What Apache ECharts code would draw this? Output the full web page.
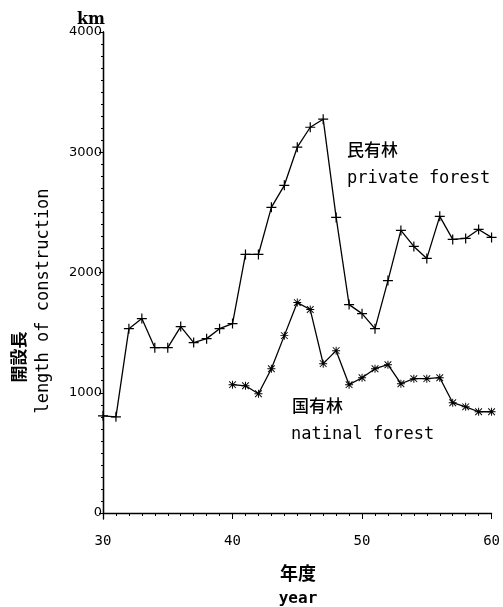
<!DOCTYPE html>
<html>
<head>
<meta charset="utf-8">
<script src="https://cdn.jsdelivr.net/npm/echarts@6/dist/echarts.min.js"></script>
<style>
html,body{margin:0;padding:0;background:#fff;}
#chart{width:503px;height:607px;}
</style>
</head>
<body>
<div id="chart"></div>
<script>
const privateYears = [30,31,32,33,34,35,36,37,38,39,40,41,42,43,44,45,46,47,48,49,50,51,52,53,54,55,56,57,58,59,60];
const privateKm = [808,800,1533,1617,1375,1375,1550,1417,1450,1533,1575,2150,2150,2542,2725,3042,3208,3275,2458,1733,1658,1533,1933,2350,2217,2117,2467,2275,2283,2358,2292];
const nationalYears = [40,41,42,43,44,45,46,47,48,49,50,51,52,53,54,55,56,57,58,59,60];
const nationalKm = [1067,1058,992,1200,1475,1750,1692,1242,1350,1067,1125,1200,1233,1075,1117,1117,1125,917,883,842,842];
const xTicks = [30,40,50,60];
const yTicks = [0,1000,2000,3000,4000];

const PLUS = 'path://M0,4.4H10V5.6H0Z M4.4,0H5.6V10H4.4Z';
const STAR = 'path://M0,4.4H10V5.6H0Z M4.4,0H5.6V10H4.4Z M1.2,0.4L9.6,8.8L8.8,9.6L0.4,1.2Z M8.8,0.4L9.6,1.2L1.2,9.6L0.4,8.8Z';

const chart = echarts.init(document.getElementById('chart'), null, {renderer:'canvas'});
const mono = 'DejaVu Sans Mono';

chart.setOption({
  animation:false,
  backgroundColor:'#fff',
  grid:[
    {left:103, right:9, top:32, bottom:94},
    {left:103, right:9, top:32, bottom:88}
  ],
  xAxis:[
    {type:'value', gridIndex:0, position:'bottom', offset:6, min:xTicks[0], max:xTicks[xTicks.length-1], interval:10,
     axisLine:{show:true, lineStyle:{color:'#000', width:1.3}},
     axisTick:{show:true, length:6, lineStyle:{color:'#000', width:1}},
     minorTick:{show:true, splitNumber:10, length:3, lineStyle:{color:'#000', width:1}},
     splitLine:{show:false}, minorSplitLine:{show:false},
     axisLabel:{color:'#000', fontFamily:mono, fontSize:14, margin:15, formatter:v=>String(v)}},
    {type:'value', gridIndex:1, show:false, min:0, max:1}
  ],
  yAxis:[
    {type:'value', gridIndex:0, min:yTicks[0], max:yTicks[yTicks.length-1], interval:1000,
     axisLine:{show:true, lineStyle:{color:'#000', width:1.3}},
     axisTick:{show:true, length:4, lineStyle:{color:'#000', width:1}},
     minorTick:{show:true, splitNumber:10, length:2, lineStyle:{color:'#000', width:1}},
     splitLine:{show:false}, minorSplitLine:{show:false},
     axisLabel:{color:'#000', fontFamily:'DejaVu Sans', fontSize:13, margin:1, formatter:v=>String(v)}},
    {type:'value', gridIndex:1, min:0, max:1,
     axisLine:{show:true, lineStyle:{color:'#000', width:1.3}},
     axisTick:{show:false}, axisLabel:{show:false}, splitLine:{show:false}}
  ],
  series:[
    {type:'line', name:'private forest', xAxisIndex:0, yAxisIndex:0,
     data: privateYears.map((y,i)=>[y, privateKm[i]]),
     symbol:PLUS, symbolSize:10, showAllSymbol:true,
     lineStyle:{color:'#000', width:1.3},
     itemStyle:{color:'#000'}},
    {type:'line', name:'national forest', xAxisIndex:0, yAxisIndex:0,
     data: nationalYears.map((y,i)=>[y, nationalKm[i]]),
     symbol:STAR, symbolSize:8, showAllSymbol:true,
     lineStyle:{color:'#000', width:1.3},
     itemStyle:{color:'#000'}}
  ],
  graphic:[
    {type:'text', left:77, top:12, style:{text:'km', font:'bold 16px "DejaVu Serif"', fill:'#000'}},
    {type:'text', left:347, top:141, style:{text:'民有林', font:'500 17px "Noto Sans CJK JP"', fill:'#000'}},
    {type:'text', left:347, top:170, style:{text:'private forest', font:'17px "DejaVu Sans Mono"', fill:'#000'}},
    {type:'text', left:292, top:397, style:{text:'国有林', font:'500 17px "Noto Sans CJK JP"', fill:'#000'}},
    {type:'text', left:291, top:426, style:{text:'natinal forest', font:'17px "DejaVu Sans Mono"', fill:'#000'}},
    {type:'text', x:19, y:357, rotation:Math.PI/2, style:{text:'開設長', font:'bold 17px "Noto Sans CJK JP"', fill:'#000', align:'center', verticalAlign:'middle'}},
    {type:'text', x:44, y:301, rotation:Math.PI/2, style:{text:'length of construction', font:'17px "DejaVu Sans Mono"', fill:'#000', align:'center', verticalAlign:'middle'}},
    {type:'text', x:298, y:573, style:{text:'年度', font:'bold 18px "Noto Sans CJK JP"', fill:'#000', align:'center', verticalAlign:'middle'}},
    {type:'text', x:298, y:599, style:{text:'year', font:'bold 16px "DejaVu Sans Mono"', fill:'#000', align:'center', verticalAlign:'middle'}}
  ]
});
</script>
</body>
</html>
